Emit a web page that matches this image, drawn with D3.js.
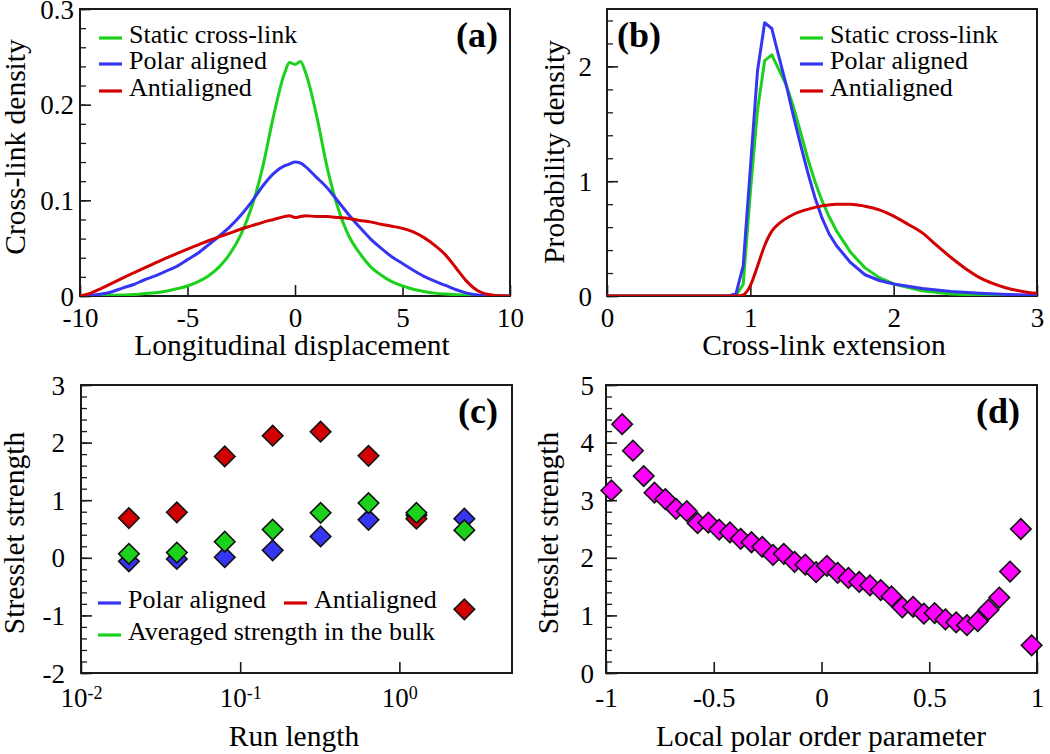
<!DOCTYPE html>
<html><head><meta charset="utf-8">
<script src="https://cdn.jsdelivr.net/npm/d3@7"></script>
<style>
body{margin:0;background:#fff}
svg{display:block}
</style>
</head><body><script>
// ---------- Panel (a): cross-link density vs longitudinal displacement ----------
const aX = [-10,-9.5,-9,-8.5,-8,-7.5,-7,-6.5,-6,-5.5,-5,-4.5,-4,-3.5,-3,-2.5,-2,-1.5,-1,-0.5,-0.25,0,0.25,0.5,1,1.5,2,2.5,3,3.5,4,4.5,5,5.5,6,6.5,7,7.5,8,8.5,9,9.5,10];
const aStatic = [0,0.0002,0.0004,0.0007,0.001,0.0015,0.0025,0.0035,0.005,0.0075,0.0105,0.015,0.0215,0.031,0.045,0.065,0.094,0.135,0.188,0.232,0.244,0.242,0.245,0.233,0.189,0.134,0.092,0.063,0.045,0.031,0.022,0.015,0.0105,0.007,0.0047,0.003,0.002,0.0013,0.0008,0.0004,0.0002,0.0001,0];
const aPolar = [0,0.0005,0.002,0.0045,0.0085,0.012,0.017,0.021,0.026,0.031,0.038,0.045,0.054,0.063,0.073,0.085,0.099,0.115,0.128,0.136,0.138,0.140,0.139,0.135,0.124,0.113,0.099,0.085,0.072,0.060,0.050,0.041,0.034,0.027,0.0205,0.0155,0.011,0.0065,0.003,0.001,0.0002,0,0];
const aAnti = [0,0.003,0.008,0.0135,0.019,0.0243,0.0295,0.0345,0.0395,0.0443,0.049,0.0535,0.058,0.062,0.066,0.070,0.0735,0.077,0.080,0.083,0.084,0.082,0.083,0.084,0.083,0.083,0.082,0.081,0.079,0.0775,0.075,0.073,0.0707,0.067,0.061,0.053,0.043,0.029,0.015,0.0055,0.0015,0.0003,0];
const aXTicks = [-10,-5,0,5,10];
const aYTicks = [0,0.1,0.2,0.3];

// ---------- Panel (b): probability density vs cross-link extension ----------
const bStaticX = [0,0.85,0.9,0.95,1.0,1.05,1.1,1.15,1.2,1.25,1.3,1.35,1.4,1.45,1.5,1.55,1.6,1.7,1.8,1.9,2.0,2.2,2.4,2.6,2.8,3.0];
const bStaticY = [0,0,0.005,0.1,0.9,1.62,2.05,2.10,1.97,1.84,1.65,1.43,1.20,1.0,0.83,0.69,0.57,0.38,0.245,0.16,0.105,0.045,0.018,0.007,0.003,0.001];
const bPolarX = [0,0.85,0.9,0.95,1.05,1.1,1.15,1.2,1.25,1.3,1.35,1.4,1.45,1.5,1.55,1.6,1.7,1.8,1.9,2.0,2.2,2.4,2.6,2.8,3.0];
const bPolarY = [0,0,0.02,0.26,1.96,2.38,2.33,2.08,1.84,1.57,1.32,1.08,0.86,0.68,0.54,0.44,0.29,0.185,0.135,0.105,0.065,0.04,0.025,0.014,0.006];
const bAntiX = [0,0.9,0.95,1.0,1.05,1.1,1.15,1.2,1.3,1.4,1.5,1.6,1.7,1.8,1.9,2.0,2.1,2.2,2.3,2.4,2.5,2.6,2.7,2.8,2.9,3.0];
const bAntiY = [0,0,0.01,0.09,0.26,0.44,0.565,0.63,0.71,0.755,0.785,0.80,0.80,0.782,0.75,0.695,0.625,0.55,0.44,0.335,0.24,0.16,0.105,0.065,0.04,0.023];
const bXTicks = [0,1,2,3];
const bYTicks = [0,1,2];

// ---------- Panel (c): stresslet strength vs run length ----------
const cRun = [0.02,0.04,0.08,0.16,0.32,0.64,1.28,2.56];
const cPolar = [-0.06,-0.02,0.01,0.13,0.37,0.66,0.74,0.68];
const cAnti = [0.69,0.79,1.76,2.12,2.19,1.77,0.68,-0.895];
const cBulk = [0.07,0.09,0.28,0.49,0.78,0.95,0.78,0.48];
const cXTicks = [0.01,0.1,1];
const cXExp = ["-2","-1","0"];
const cYTicks = [-2,-1,0,1,2,3];

// ---------- Panel (d): stresslet strength vs local polar order ----------
const dOrder = [-0.975,-0.925,-0.875,-0.825,-0.775,-0.725,-0.675,-0.625,-0.575,-0.525,-0.475,-0.425,-0.375,-0.325,-0.275,-0.225,-0.175,-0.125,-0.075,-0.025,0.025,0.075,0.125,0.175,0.225,0.275,0.325,0.375,0.425,0.475,0.525,0.575,0.625,0.675,0.725,0.775,0.825,0.875,0.925,0.975];
const dStrength = [3.17,4.32,3.86,3.42,3.13,3.02,2.85,2.81,2.60,2.61,2.49,2.44,2.33,2.27,2.19,2.05,2.07,1.93,1.88,1.75,1.86,1.74,1.65,1.58,1.52,1.44,1.33,1.14,1.15,1.03,1.04,0.93,0.88,0.83,0.90,1.10,1.31,1.76,2.50,0.48];
const dXTicks = [-1,-0.5,0,0.5,1];
const dYTicks = [0,1,2,3,4,5];

const legendNames = ["Static cross-link","Polar aligned","Antialigned"];

// ---------- drawing ----------
const W = 1050, H = 754;
const SERIF = "'Liberation Serif','Times New Roman',Times,serif";
const COL = {green:"#1cd11c", blue:"#3535f2", red:"#d20000", magenta:"#ff00ff", frame:"#1a1a1a"};
const TICKF = 27, TITLEF = 29.5, LEGF = 26, LABF = 36;

const svg = d3.select("body").append("svg").attr("width", W).attr("height", H)
  .attr("font-family", SERIF);
svg.append("rect").attr("width", W).attr("height", H).attr("fill", "#fff");

function range(a, b, s) { const r = []; for (let v = a; v <= b + 1e-9; v += s) r.push(+v.toFixed(6)); return r; }

function axes(x, y, o) {
  const [x0, x1] = x.range(), [y0, y1] = y.range();
  const g = svg.append("g");
  if (o.yMinor) {
    const gm = g.append("g").attr("transform", `translate(${x0},0)`)
      .call(d3.axisLeft(y).tickValues(o.yMinor).tickSize(-6).tickFormat(""));
    gm.select(".domain").remove();
    gm.selectAll("line").attr("stroke", COL.frame).attr("stroke-width", 1.3);
  }
  const gx = g.append("g").attr("transform", `translate(0,${y0})`)
    .call(d3.axisBottom(x).tickValues(o.xTicks).tickSize(-11).tickFormat(o.xFmt || (d => String(d))));
  gx.select(".domain").remove();
  gx.selectAll("line").attr("stroke", COL.frame).attr("stroke-width", 1.6);
  gx.selectAll("text").attr("y", o.xLabOff).attr("dy", 0).attr("font-size", TICKF)
    .attr("font-family", SERIF).attr("fill", "#000");
  const gy = g.append("g").attr("transform", `translate(${x0},0)`)
    .call(d3.axisLeft(y).tickValues(o.yTicks).tickSize(-11).tickFormat(o.yFmt || (d => String(d))));
  gy.select(".domain").remove();
  gy.selectAll("line").attr("stroke", COL.frame).attr("stroke-width", 1.6);
  gy.selectAll("text").attr("x", -o.yGap).attr("dy", "0.34em").attr("font-size", TICKF)
    .attr("font-family", SERIF).attr("fill", "#000");
  g.append("rect").attr("x", x0).attr("y", y1).attr("width", x1 - x0).attr("height", y0 - y1)
    .attr("fill", "none").attr("stroke", COL.frame).attr("stroke-width", 2);
  g.append("text").attr("x", o.xTitle[0]).attr("y", o.xTitle[1]).attr("text-anchor", "middle")
    .attr("font-size", TITLEF).text(o.xLabel);
  g.append("text").attr("transform", `translate(${o.yTitle[0]},${o.yTitle[1]}) rotate(-90)`)
    .attr("text-anchor", "middle").attr("font-size", TITLEF).text(o.yLabel);
  g.append("text").attr("x", o.tag[0]).attr("y", o.tag[1]).attr("text-anchor", o.tag[2])
    .attr("font-size", LABF).attr("font-weight", "bold").text(o.tagText);
  return gx;
}

function legendRow(xLine, yBase, color, label) {
  svg.append("line").attr("x1", xLine).attr("x2", xLine + 23).attr("y1", yBase - 5).attr("y2", yBase - 5)
    .attr("stroke", color).attr("stroke-width", 3.2);
  svg.append("text").attr("x", xLine + 30).attr("y", yBase).attr("font-size", LEGF).text(label);
}

// ===== Panel (a) =====
{
  const x = d3.scaleLinear([-10, 10], [80, 510]);
  const y = d3.scaleLinear([0, 0.3], [296, 9]);
  axes(x, y, {xTicks: aXTicks, yTicks: aYTicks, yMinor: range(0, 0.3, 0.02),
    yFmt: d => d === 0 ? "0" : d.toFixed(1), xLabOff: 31, yGap: 6,
    xLabel: "Longitudinal displacement", yLabel: "Cross-link density",
    xTitle: [292, 355], yTitle: [25, 147], tag: [498, 47, "end"], tagText: "(a)"});
  svg.append("clipPath").attr("id", "clipA").append("rect")
    .attr("x", 80).attr("y", 9).attr("width", 430).attr("height", 287);
  const line = d3.line().x((d, i) => x(aX[i])).y(d => y(d)).curve(d3.curveMonotoneX);
  const gl = svg.append("g").attr("clip-path", "url(#clipA)");
  [[aStatic, COL.green], [aPolar, COL.blue], [aAnti, COL.red]].forEach(([s, c]) =>
    gl.append("path").attr("d", line(s)).attr("fill", "none").attr("stroke", c)
      .attr("stroke-width", 3).attr("stroke-linejoin", "round"));
  legendRow(99, 43, COL.green, legendNames[0]);
  legendRow(99, 69, COL.blue, legendNames[1]);
  legendRow(99, 96, COL.red, legendNames[2]);
}

// ===== Panel (b) =====
{
  const x = d3.scaleLinear([0, 3], [607, 1037]);
  const y = d3.scaleLinear([0, 2.5], [296, 9]);
  axes(x, y, {xTicks: bXTicks, yTicks: bYTicks, yMinor: range(0, 2.4, 0.2), xLabOff: 31, yGap: 15,
    xLabel: "Cross-link extension", yLabel: "Probability density",
    xTitle: [824, 355], yTitle: [564, 152], tag: [617, 47, "start"], tagText: "(b)"});
  svg.append("clipPath").attr("id", "clipB").append("rect")
    .attr("x", 607).attr("y", 9).attr("width", 430).attr("height", 287);
  const gl = svg.append("g").attr("clip-path", "url(#clipB)");
  const mk = (xs, ys, curve) => d3.line().x((d, i) => x(xs[i])).y(d => y(d)).curve(curve)(ys);
  gl.append("path").attr("d", mk(bStaticX, bStaticY, d3.curveLinear)).attr("fill", "none")
    .attr("stroke", COL.green).attr("stroke-width", 3).attr("stroke-linejoin", "round");
  gl.append("path").attr("d", mk(bPolarX, bPolarY, d3.curveLinear)).attr("fill", "none")
    .attr("stroke", COL.blue).attr("stroke-width", 3).attr("stroke-linejoin", "round");
  gl.append("path").attr("d", mk(bAntiX, bAntiY, d3.curveMonotoneX)).attr("fill", "none")
    .attr("stroke", COL.red).attr("stroke-width", 3).attr("stroke-linejoin", "round");
  legendRow(800, 43, COL.green, legendNames[0]);
  legendRow(800, 69, COL.blue, legendNames[1]);
  legendRow(800, 96, COL.red, legendNames[2]);
}

const diamond = d3.symbol().type(d3.symbolSquare).size(210);

// ===== Panel (c) =====
{
  const x = d3.scaleLog([0.01, 5.1], [81, 512]);
  const y = d3.scaleLinear([-2, 3], [673, 385]);
  const gx = axes(x, y, {xTicks: cXTicks, yTicks: cYTicks, yMinor: range(-2, 3, 0.2),
    xFmt: () => "", xLabOff: 34, yGap: 16,
    xLabel: "Run length", yLabel: "Stresslet strength",
    xTitle: [294, 746], yTitle: [24, 533], tag: [498, 423, "end"], tagText: "(c)"});
  gx.selectAll(".tick text").each(function(d, i) {
    const t = d3.select(this).text(null);
    t.append("tspan").text("10");
    t.append("tspan").attr("dy", -8).attr("font-size", 18).text(cXExp[i]);
  });
  const series = [[cPolar, COL.blue], [cAnti, COL.red], [cBulk, COL.green]];
  series.forEach(([s, c]) => {
    svg.append("g").selectAll("path").data(s).join("path")
      .attr("d", diamond)
      .attr("transform", (d, i) => `translate(${x(cRun[i])},${y(d)}) rotate(45)`)
      .attr("fill", c).attr("stroke", "#111").attr("stroke-width", 1.6);
  });
  legendRow(98, 608, COL.blue, "Polar aligned");
  legendRow(284, 608, COL.red, "Antialigned");
  legendRow(98, 640, COL.green, "Averaged strength in the bulk");
}

// ===== Panel (d) =====
{
  const x = d3.scaleLinear([-1, 1], [606, 1037]);
  const y = d3.scaleLinear([0, 5], [673, 385]);
  axes(x, y, {xTicks: dXTicks, yTicks: dYTicks, yMinor: range(0, 5, 0.2), xLabOff: 34, yGap: 12,
    xLabel: "Local polar order parameter", yLabel: "Stresslet strength",
    xTitle: [821, 746], yTitle: [558, 533], tag: [1020, 423, "end"], tagText: "(d)"});
  svg.append("g").selectAll("path").data(dStrength).join("path")
    .attr("d", diamond)
    .attr("transform", (d, i) => `translate(${x(dOrder[i])},${y(d)}) rotate(45)`)
    .attr("fill", COL.magenta).attr("stroke", "#111").attr("stroke-width", 1.6);
}
</script></body></html>
